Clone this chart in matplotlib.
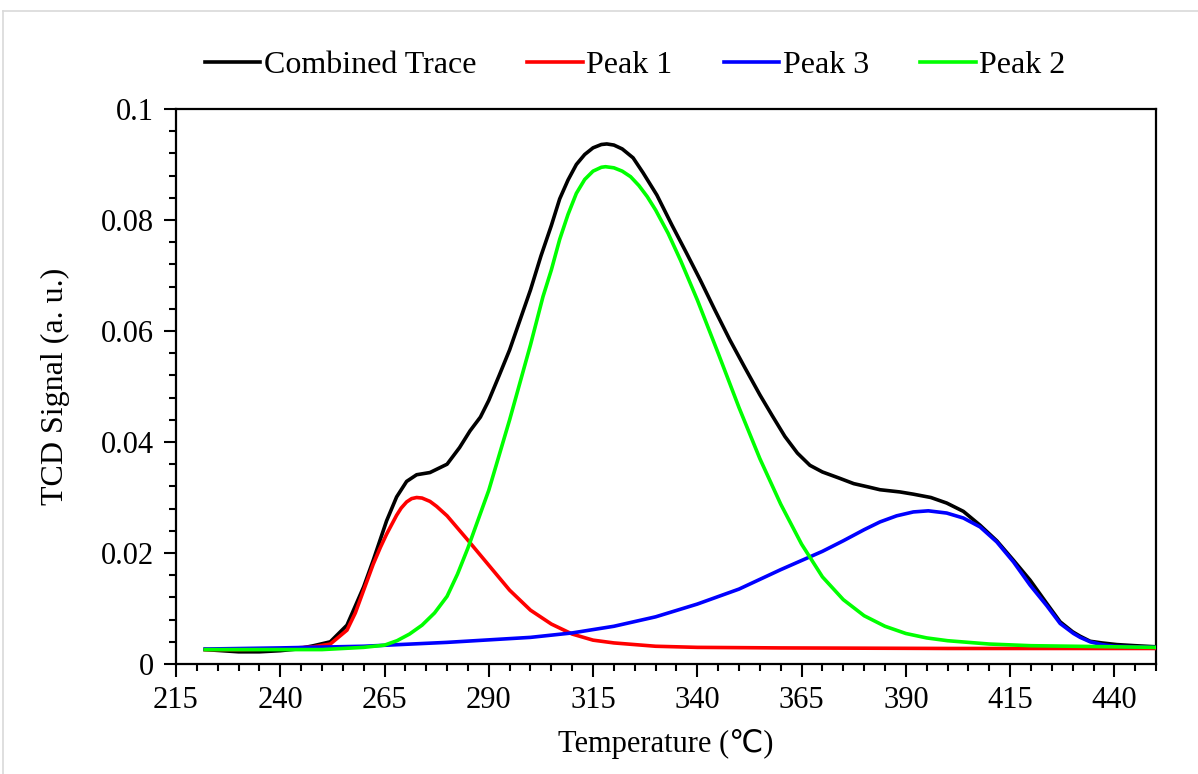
import matplotlib.pyplot as plt
from matplotlib.ticker import FixedLocator
from matplotlib.lines import Line2D

plt.rcParams['font.family'] = ['Liberation Serif', 'DejaVu Sans']

# combined TCD trace
t_comb = [222, 226, 230, 235, 240, 244, 248, 252, 256, 260, 262.3, 265.5, 267.9,
          270.3, 272.7, 275.9, 280, 283, 285.5, 288, 290, 292.5, 295, 297.5, 300,
          302.5, 305, 307, 309, 311, 313, 315, 317, 318.3, 320, 322, 324.6, 327,
          330.3, 333.9, 337.3, 340.7, 344.2, 347.8, 351.4, 355, 358, 361, 364, 367,
          370, 374, 377.5, 381, 383.8, 388.6, 391.8, 396, 399.8, 403.8, 407.8,
          411.8, 415.8, 419.8, 423.8, 427, 430, 431.8, 434.2, 437, 440.6, 445, 450]
v_comb = [0.0026, 0.0024, 0.0022, 0.0022, 0.0024, 0.0027, 0.0033, 0.0040, 0.0070,
          0.0139, 0.0187, 0.0258, 0.0301, 0.0329, 0.0341, 0.0345, 0.0360, 0.0390,
          0.0420, 0.0445, 0.0475, 0.0520, 0.0566, 0.0620, 0.0674, 0.0735, 0.0790,
          0.0838, 0.0872, 0.0900, 0.0918, 0.0930, 0.0936, 0.0937, 0.0935, 0.0928,
          0.0912, 0.0885, 0.0845, 0.0791, 0.0742, 0.0692, 0.0638, 0.0584, 0.0534,
          0.0485, 0.0447, 0.0410, 0.0380, 0.0358, 0.0346, 0.0335, 0.0325, 0.0319,
          0.0314, 0.0310, 0.0306, 0.0300, 0.0290, 0.0275, 0.0250, 0.0222, 0.0187,
          0.0151, 0.0109, 0.0076, 0.0058, 0.0050, 0.0041, 0.0038, 0.0035, 0.0033,
          0.0031]

# peak 1 (low temperature)
t_p1 = [222, 230, 240, 248, 252, 256, 258, 260, 262.3, 264, 265.5, 267.9, 269,
        270.3, 271.5, 272.7, 274, 275.9, 277.5, 280, 285, 290, 295, 300, 305,
        310, 315, 320, 330, 340, 360, 400, 450]
v_p1 = [0.0026, 0.0026, 0.0027, 0.0031, 0.0036, 0.0061, 0.0092, 0.0133, 0.0180,
        0.0210, 0.0234, 0.0268, 0.0281, 0.0292, 0.0298, 0.0300, 0.0299, 0.0293,
        0.0284, 0.0267, 0.0223, 0.0178, 0.0133, 0.0097, 0.0072, 0.0054, 0.0043,
        0.0038, 0.0032, 0.0030, 0.0029, 0.0028, 0.0028]

# peak 3 (high temperature)
t_p3 = [222, 240, 260, 280, 300, 310, 320, 330, 340, 350, 360, 370, 375, 380,
        383.8, 387.8, 391.8, 395.4, 399.8, 403.8, 407.8, 411.8, 415.8, 419.8,
        423.8, 427, 430.2, 431.8, 434.2, 437, 440, 445, 450]
v_p3 = [0.0027, 0.0029, 0.0032, 0.0039, 0.0048, 0.0056, 0.0068, 0.0085, 0.0108,
        0.0135, 0.0170, 0.0203, 0.0222, 0.0242, 0.0256, 0.0267, 0.0274, 0.0276,
        0.0272, 0.0263, 0.0247, 0.0220, 0.0184, 0.0142, 0.0105, 0.0073, 0.0055,
        0.0048, 0.0040, 0.0035, 0.0032, 0.0031, 0.0030]

# peak 2 (main)
t_p2 = [222, 240, 250, 260, 265, 268, 271, 274, 277, 280, 282.5, 285, 290, 295,
        300, 303, 305, 307, 309, 311, 313, 315, 317, 318, 320, 322, 324, 326,
        328, 330, 333, 336, 340, 345, 350, 355, 360, 365, 370, 375, 380, 385,
        390, 395, 400, 410, 420, 430, 450]
v_p2 = [0.0026, 0.0026, 0.0026, 0.0030, 0.0034, 0.0042, 0.0054, 0.0070, 0.0092,
        0.0122, 0.0162, 0.0209, 0.0313, 0.0440, 0.0575, 0.0662, 0.0710, 0.0765,
        0.0810, 0.0848, 0.0873, 0.0888, 0.0895, 0.0896, 0.0894, 0.0888, 0.0878,
        0.0862, 0.0842, 0.0818, 0.0776, 0.0727, 0.0656, 0.0560, 0.0462, 0.0370,
        0.0288, 0.0216, 0.0157, 0.0116, 0.0087, 0.0068, 0.0055, 0.0047, 0.0042,
        0.0036, 0.0033, 0.0032, 0.0030]

x_major = [215, 240, 265, 290, 315, 340, 365, 390, 415, 440]
x_minor = list(range(215, 451, 5))
y_major = [0, 0.02, 0.04, 0.06, 0.08, 0.1]
y_labels = ['0', '0.02', '0.04', '0.06', '0.08', '0.1']

fig = plt.figure(figsize=(11.98, 7.74), dpi=100)
ax = fig.add_axes([0.1469, 0.1421, 0.8181, 0.7171])

lw = 2.6
ax.plot(t_comb, v_comb, color='black', lw=lw, label='Combined Trace', zorder=2)
ax.plot(t_p1, v_p1, color='#ff0000', lw=lw, label='Peak 1', zorder=3)
ax.plot(t_p3, v_p3, color='#0000ff', lw=lw, label='Peak 3', zorder=3)
ax.plot(t_p2, v_p2, color='#00ff00', lw=lw, label='Peak 2', zorder=4)

ax.set_xlim(215, 450)
ax.set_ylim(0, 0.1)
ax.xaxis.set_major_locator(FixedLocator(x_major))
ax.xaxis.set_minor_locator(FixedLocator(x_minor))
ax.set_yticks(y_major)
ax.set_yticklabels(y_labels)
ax.yaxis.set_minor_locator(FixedLocator([i * 0.004 for i in range(26)]))

ax.tick_params(which='major', direction='out', length=9, width=1.5,
               labelsize=22, pad=7, top=False, right=False)
ax.tick_params(which='minor', direction='out', length=5, width=1.5,
               top=False, right=False)
for sp in ax.spines.values():
    sp.set_linewidth(1.6)

ax.set_xlabel('Temperature (℃)', fontsize=22, labelpad=10)
ax.set_ylabel('TCD Signal (a. u.)', fontsize=23, labelpad=22)

fig.legend(loc='center', bbox_to_anchor=(0.53, 0.916), ncol=4, frameon=False,
           fontsize=23, handlelength=1.75, handletextpad=0.1, columnspacing=1.6)

# thin grey chart-area border
fig.add_artist(Line2D([3 / 1198, 1], [1 - 11 / 774] * 2, color='#d9d9d9', lw=1.2))
fig.add_artist(Line2D([3 / 1198] * 2, [0, 1 - 11 / 774], color='#d9d9d9', lw=1.2))

fig.savefig('out.png', dpi=100)
